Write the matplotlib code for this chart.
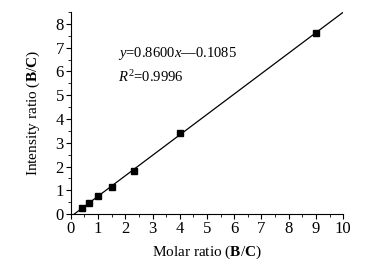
import matplotlib
matplotlib.use("Agg")
import matplotlib.pyplot as plt
import numpy as np
from matplotlib.ticker import MultipleLocator

plt.rcParams['font.family'] = ['Liberation Serif', 'DejaVu Serif']
plt.rcParams['mathtext.fontset'] = 'custom'
plt.rcParams['mathtext.rm'] = 'Liberation Serif'
plt.rcParams['mathtext.it'] = 'Liberation Serif:italic'
plt.rcParams['mathtext.bf'] = 'Liberation Serif:bold'

molar_ratio = [0.4, 0.65, 1.0, 1.5, 2.33, 4.0, 9.0]
intensity_ratio = [0.26, 0.48, 0.75, 1.15, 1.83, 3.40, 7.62]
slope = 0.8600
intercept = -0.1085
r2 = 0.9996

fig = plt.figure(figsize=(3.67, 2.62), dpi=100)
ax = fig.add_axes([0.193, 0.183, 0.742, 0.771])

xl = np.array([0.0, 10.0])
ax.plot(xl, slope * xl + intercept, color='black', lw=0.9)
ax.plot(molar_ratio, intensity_ratio, 's', color='black', ms=4.2)

ax.set_xlim(0, 10)
ax.set_ylim(0, 8.5)
ax.xaxis.set_major_locator(MultipleLocator(1))
ax.xaxis.set_minor_locator(MultipleLocator(0.5))
ax.yaxis.set_major_locator(MultipleLocator(1))
ax.yaxis.set_minor_locator(MultipleLocator(0.5))
ax.spines['top'].set_visible(False)
ax.spines['right'].set_visible(False)
for s in ('left', 'bottom'):
    ax.spines[s].set_linewidth(0.8)
ax.tick_params(which='major', direction='out', length=3.5, width=0.8, labelsize=12, pad=1.5)
ax.tick_params(which='minor', direction='out', length=2, width=0.6)

ax.set_xlabel(r'Molar ratio ($\mathbf{B}$/$\mathbf{C}$)', fontsize=11, labelpad=5)
ax.set_ylabel(r'Intensity ratio ($\mathbf{B}$/$\mathbf{C}$)', fontsize=11, labelpad=10)

ax.text(1.75, 6.75, r'$y$=0.8600$x$' + '\u2014' + '0.1085', fontsize=10.5, va='center', ha='left')
ax.text(1.75, 5.75, r'$R^2$=0.9996', fontsize=10.5, va='center', ha='left')

fig.savefig('out.png', dpi=100)
